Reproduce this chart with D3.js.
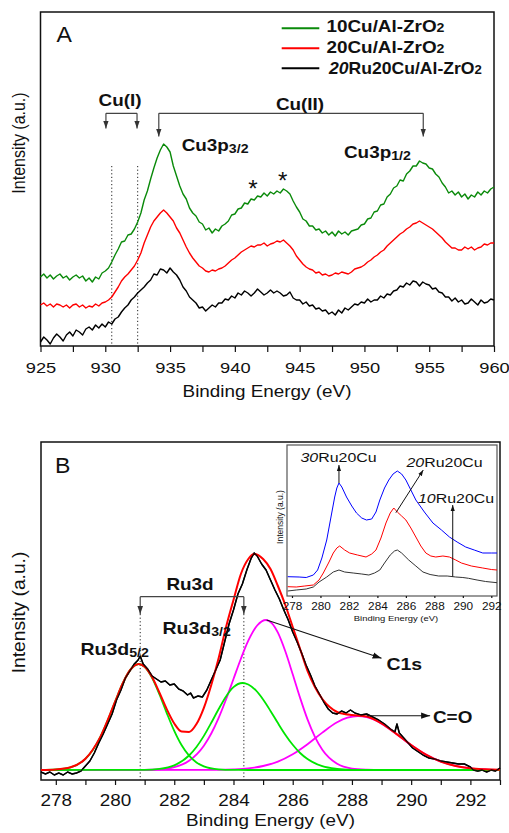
<!DOCTYPE html>
<html>
<head>
<meta charset="utf-8">
<title>XPS Cu3p / Ru3d</title>
<script src="https://d3js.org/d3.v7.min.js"></script>
<style>
  body { margin: 0; background: #fff; }
  text { font-family: Arial, "Liberation Sans", sans-serif; }
</style>
</head>
<body>
<div id="chart"></div>
<script>
// ---------- DATA: panel A (Cu3p region), intensities in a.u. every 0.25 eV ----------
var energyA = d3.range(925, 960.001, 0.25);   // sampling grid of the spectra
var cu10 = [
  69,72,68,71, 67,70,72,68, 70,66,69,71, 68,70,65,68, 64,69,67,73,
  75,78,84,91, 97,104,105,111, 112,117,124,133, 146,155,167,178, 188,196,202,199,
  194,180,170,160, 152,147,138,133, 130,124,122,116, 118,113,117,115, 120,122,125,131,
  132,137,138,143, 142,147,146,150, 149,153,150,154, 152,155,153,157, 155,152,145,139,
  134,127,125,120, 120,116,117,113, 115,111,114,110, 115,112,114,111, 115,116,117,121,
  122,127,128,134, 135,141,142,149, 152,158,160,166, 165,172,175,180, 180,185,183,182,
  178,177,172,169, 163,159,153,155, 151,154,149,152, 147,151,149,154, 151,155,153,157, 159];
var cu20 = [
  41,43,40,42, 39,42,41,39, 41,38,41,42, 39,41,38,40, 39,42,40,43,
  44,46,49,54, 59,65,69,72, 76,80,86,93, 103,111,119,125, 129,133,136,133,
  129,125,118,113, 106,99,93,88, 84,80,78,75, 74,76,75,77, 78,80,83,86,
  88,91,94,96, 98,100,99,101, 101,103,100,102, 103,105,104,106, 103,100,96,90,
  86,82,79,77, 76,73,74,71, 72,70,71,73, 72,74,73,72, 74,77,78,79,
  81,84,86,89, 91,94,96,100, 103,106,109,112, 114,117,119,122, 123,125,123,121,
  119,117,114,111, 108,104,101,98, 98,96,96,99, 97,99,96,98, 99,102,101,103, 103];
var ru20cu20 = [
  4,9,6,2, 8,12,9,5, 11,14,10,16, 14,11,17,19, 16,21,18,22,
  19,24,22,27, 29,34,38,41, 46,49,53,56, 59,63,66,72, 71,77,76,73,
  78,74,71,66, 59,55,49,46, 43,38,39,35, 38,41,39,43, 43,47,46,50,
  48,53,51,55, 53,50,53,57, 54,51,53,56, 53,55,53,50, 51,54,48,46,
  46,42,44,40, 41,37,38,35, 36,32,34,31, 36,33,38,36, 39,42,41,44,
  43,47,44,46, 46,50,48,52, 51,55,56,60, 59,63,61,65, 64,60,64,62,
  61,57,58,54, 53,49,49,45, 48,44,46,42, 43,47,44,41, 46,43,44,47, 46];
var namesA = ['10Cu/Al-ZrO', '20Cu/Al-ZrO', 'Ru20Cu/Al-ZrO'];
var ticksA = [925, 927.5, 930, 932.5, 935, 937.5, 940, 942.5, 945, 947.5, 950, 952.5, 955, 957.5, 960];
var cuIEnergies = [930.5, 932.5];

// ---------- DATA: panel B (Ru3d + C1s), [binding energy, intensity] ----------
var measured = [[277.5,-2],[277.65,-4],[277.8,-2],[277.95,-5],[278.1,-3],[278.25,-5],[278.4,-2],[278.55,-4],
  [278.7,-3],[278.85,-1],[279.0,4],[279.15,9],[279.3,17],[279.45,27],[279.6,36],[279.75,46],[279.9,56],
  [280.05,70],[280.2,80],[280.35,92],[280.5,99],[280.65,106],[280.78,110],[280.85,114],[280.95,106],
  [281.1,101],[281.25,94],[281.4,91],[281.55,88],[281.7,89],[281.85,85],[282.0,86],[282.15,81],[282.3,79],
  [282.45,75],[282.55,77],[282.65,72],[282.8,74],[282.95,73],[283.1,80],[283.25,90],[283.4,100],[283.55,110],
  [283.7,128],[283.85,146],[284.0,160],[284.15,176],[284.3,186],[284.45,200],[284.6,212],[284.7,217],
  [284.8,214],[284.95,206],[285.1,200],[285.25,190],[285.4,180],[285.55,171],[285.7,160],[285.85,150],
  [286.0,138],[286.15,128],[286.3,117],[286.45,105],[286.6,95],[286.75,84],[286.9,76],[287.05,68],
  [287.2,61],[287.35,57],[287.5,56],[287.65,59],[287.8,57],[287.95,60],[288.1,57],[288.3,55],[288.5,56],
  [288.7,53],[288.9,50],[289.1,46],[289.3,41],[289.45,38],[289.52,46],[289.6,37],[289.75,32],[289.9,27],
  [290.05,22],[290.2,19],[290.4,15],[290.6,12],[290.8,11],[291.0,9],[291.2,8],[291.4,7],[291.6,6],
  [291.8,6],[292.0,3],[292.1,0],[292.25,-1],[292.4,0],[292.55,-2],[292.7,0],[292.85,-1],[293.0,2]];
var envelope = [[277.5,0],[278,0.5],[278.5,2.7],[279,11.2],[279.5,32.9],[280,68.1],[280.25,86],[280.5,99.6],
  [280.8,106.1],[281,103.3],[281.25,92.9],[281.5,77.3],[281.75,60.6],[282,46.5],[282.25,38.4],[282.5,38],
  [282.75,45.9],[283,62.1],[283.25,85],[283.5,112],[283.75,143],[284,170],[284.25,196],[284.5,211],
  [284.7,216],[285,211],[285.25,201],[285.5,184],[285.75,165],[286,143],[286.25,121],[286.5,99],
  [286.75,83],[287,71],[287.25,63],[287.5,58],[287.75,56],[288,55],[288.5,53.5],[289,46.5],[289.5,36.1],
  [290,25],[290.5,15.4],[291,8.4],[291.5,4.1],[292,1.7],[292.5,0.7],[293,0.2]];
var ru3d52 = [[277.5,0],[278,0.5],[278.5,2.7],[279,11.2],[279.25,20.1],[279.5,32.9],[279.75,49.4],[280,68.1],
  [280.25,86],[280.5,99.6],[280.8,106],[281,103.1],[281.25,92.1],[281.5,75.5],[281.75,56.7],[282,39.1],
  [282.25,24.7],[282.5,14.3],[282.75,7.6],[283,3.7],[283.5,0.7],[284,0.1],[284.5,0],[293,0]];
var ru3d32 = [[277.5,0],[281,0.2],[281.5,1.1],[282,4.6],[282.5,14.5],[282.75,23],[283,34.1],[283.25,47.2],
  [283.5,61],[283.75,73.6],[284,82.8],[284.3,87],[284.5,85.5],[284.75,79.8],[285,70.5],[285.25,59.1],
  [285.5,46.9],[285.75,35.3],[286,25.2],[286.25,17],[286.5,10.9],[287,3.8],[287.5,1.1],[288,0.2],[288.5,0],[293,0]];
var c1s = [[277.5,0],[281,0.2],[281.5,0.7],[282,2.8],[282.5,9.2],[283,24.3],[283.25,36.5],[283.5,52.1],
  [283.75,70.7],[284,91],[284.25,111.3],[284.5,129.3],[284.8,144.5],[285.1,150],[285.3,146.7],[285.5,137.3],
  [285.75,118.7],[286,95.8],[286.25,72.1],[286.5,50.6],[286.75,33.2],[287,20.3],[287.5,6.2],[288,1.4],
  [288.5,0.3],[289,0],[293,0]];
var cdo = [[277.5,0],[283.5,0.2],[284,0.6],[284.5,1.6],[285,4],[285.5,8.4],[286,15.7],[286.5,25.8],[287,37.4],
  [287.5,47.7],[287.85,52.3],[288.2,54],[288.5,52.8],[289,46.4],[289.5,36.1],[290,25],[290.5,15.4],[291,8.4],
  [291.5,4.1],[292,1.7],[292.5,0.7],[293,0.2]];
var ticksB = [278, 279, 280, 281, 282, 283, 284, 285, 286, 287, 288, 289, 290, 291, 292, 293];
var ru3dEnergies = [280.85, 284.35];

// ---------- DATA: inset (xRu20Cu series) ----------
var inset30 = [[277.7,19.3],[278.5,19],[279,18.5],[279.5,21],[279.8,26],[280.1,38],[280.44,56],[280.7,76],
  [281,99],[281.15,108],[281.3,113],[281.5,109],[281.83,99],[282.2,90],[282.53,83],[282.9,78],[283.23,76],
  [283.6,77],[283.9,84],[284.17,96],[284.5,108],[284.8,116],[285.1,122],[285.4,125],[285.7,122],[286,116],
  [286.35,106],[286.7,96],[287.3,84],[287.9,73],[288.5,66],[289.06,59],[289.6,54],[290.2,49],[290.8,46],
  [291.4,43],[292,43],[292.4,43]];
var inset20 = [[277.7,9.3],[278.3,9],[278.9,10],[279.5,11],[279.9,16],[280.2,23],[280.6,34],[280.9,43],
  [281.15,48],[281.35,50],[281.7,46],[282.05,43],[282.6,41],[283.2,39],[283.6,42],[283.9,46],[284.25,58],
  [284.6,73],[284.9,83],[285.15,88],[285.4,84],[285.7,80],[286,76],[286.35,68],[286.7,59],[287.05,50],
  [287.4,43],[287.75,40],[288.1,39],[288.6,40],[289.06,39],[289.5,36],[289.9,33],[290.6,30],[291.4,28],
  [292,26.5],[292.4,26]];
var inset10 = [[277.7,5],[278.3,6],[279,7],[279.5,9],[279.9,14],[280.44,19],[280.9,24],[281.3,26],[281.7,24],
  [282.3,23],[282.9,22],[283.4,21],[283.8,23],[284.17,26],[284.5,33],[284.9,41],[285.2,45],[285.4,46],
  [285.7,43],[286.2,36],[286.7,30],[287.2,24],[287.7,21.5],[288.3,20],[288.9,20],[289.5,19],[290,18.5],
  [290.4,17.7],[291,16],[291.6,14.5],[292.4,13.3]];
var insetNames = ['30', '20', '10'];
var ticksInset = [278, 280, 282, 284, 286, 288, 290, 292];

// ---------- SETUP ----------
var W = 509, H = 833;
var SX = 1.18;   // the figure is a bit wider than tall, so text is stretched sideways
var svg = d3.select('#chart').append('svg').attr('width', W).attr('height', H);

var defs = svg.append('defs');
function marker(id, color, size) {
    defs.append('marker').attr('id', id)
        .attr('viewBox', '0 0 10 10').attr('refX', 10).attr('refY', 5)
        .attr('markerWidth', size).attr('markerHeight', size)
        .attr('markerUnits', 'userSpaceOnUse').attr('orient', 'auto')
        .append('path').attr('d', 'M0,1.5 L10,5 L0,8.5 Z').attr('fill', color);
}
marker('arrGrey', '#333', 8);
marker('arrBlack', '#111', 9);
marker('arrSmall', '#111', 6);

// text with tspans for subscripts / italics
function label(g, x, y, parts, o) {
    o = o || {};
    var t = g.append('text')
        .attr('transform', 'translate(' + x + ',' + y + ') scale(' + (o.sx || SX) + ',1)')
        .attr('text-anchor', o.anchor || 'start')
        .style('font-size', (o.size || 16) + 'px')
        .style('font-weight', o.bold ? 'bold' : 'normal')
        .attr('fill', o.fill || '#111');
    [].concat(parts).forEach(function (p) {
        if (typeof p === 'string') { t.append('tspan').text(p); return; }
        var s = t.append('tspan').text(p.t);
        if (p.size) s.style('font-size', p.size + 'px');
        if (p.dy) s.attr('dy', p.dy);
        if (p.italic) s.style('font-style', 'italic');
    });
    return t;
}

function vlabel(g, x, y, text, size, stretch) {
    g.append('text')
        .attr('transform', 'translate(' + x + ',' + y + ') rotate(-90) scale(' + stretch + ',1.1)')
        .attr('text-anchor', 'middle').style('font-size', size + 'px').attr('fill', '#111')
        .text(text);
}

function bottomAxis(g, scale, y, values, fmt, size, labelY, tick) {
    var ax = g.append('g').attr('transform', 'translate(0,' + y + ')')
        .call(d3.axisBottom(scale).tickValues(values).tickSize(tick).tickFormat(fmt));
    ax.select('.domain').remove();
    ax.selectAll('line').attr('stroke', '#111').attr('stroke-width', 1.2);
    ax.selectAll('text').attr('y', labelY).attr('dy', null)
        .attr('transform', 'scale(' + SX + ',1)')
        .style('font-size', size + 'px').style('font-family', 'Arial, "Liberation Sans", sans-serif')
        .attr('fill', '#111');
    return ax;
}

function arrow(g, x1, y1, x2, y2, color, mk, w) {
    g.append('line').attr('x1', x1).attr('y1', y1).attr('x2', x2).attr('y2', y2)
        .attr('stroke', color).attr('stroke-width', w || 1.2)
        .attr('marker-end', 'url(#' + mk + ')');
}

// ---------- PANEL A ----------
var gA = svg.append('g');
var xA = d3.scaleLinear().domain([925, 960]).range([40.5, 494]);
var yA = d3.scaleLinear().domain([0, 334]).range([346, 12]);

gA.append('rect').attr('x', 40.5).attr('y', 12).attr('width', 453.5).attr('height', 334)
    .attr('fill', 'none').attr('stroke', '#111').attr('stroke-width', 1.5);

// dotted Cu(I) guides
gA.selectAll('line.cuI').data(cuIEnergies).enter().append('line')
    .attr('x1', function (d) { return xA(d); }).attr('x2', function (d) { return xA(d); })
    .attr('y1', yA(180)).attr('y2', yA(0))
    .attr('stroke', '#222').attr('stroke-width', 1).attr('stroke-dasharray', '1.2,2.4');

var lineA = d3.line().x(function (d, i) { return xA(energyA[i]); }).y(function (d) { return yA(d); });
var seriesA = [
    { values: cu10, color: '#0a8a0a' },
    { values: cu20, color: '#ff0000' },
    { values: ru20cu20, color: '#000000' }
];
gA.selectAll('path.specA').data(seriesA).enter().append('path')
    .attr('class', 'specA')
    .attr('d', function (d) { return lineA(d.values); })
    .attr('fill', 'none').attr('stroke', function (d) { return d.color; })
    .attr('stroke-width', 1.4).attr('stroke-linejoin', 'round');

bottomAxis(gA, xA, 346, ticksA, function (d) { return d % 5 === 0 ? d : ''; }, 15.5, 27, 6);
label(gA, 267, 396.5, 'Binding Energy (eV)', { anchor: 'middle', size: 16 });
vlabel(gA, 25, 143, 'Intensity (a.u.)', 16, 1.0);
label(gA, 56.5, 41.5, 'A', { size: 22, sx: 1.05 });

// legend
var legA = gA.append('g');
var legRows = [28.3, 48.3, 68.3];
seriesA.forEach(function (s, i) {
    legA.append('line').attr('x1', 281.7).attr('x2', 319.3).attr('y1', legRows[i]).attr('y2', legRows[i])
        .attr('stroke', s.color).attr('stroke-width', 2);
});
label(legA, 326.5, 32, [namesA[0], { t: '2', size: 12 }], { size: 16, bold: true });
label(legA, 326.5, 52.5, [namesA[1], { t: '2', size: 12 }], { size: 16, bold: true });
label(legA, 329, 73.5, [{ t: '20', italic: true }, namesA[2], { t: '2', size: 12 }], { size: 16, bold: true, sx: 1.1 });

// Cu(I) / Cu(II) brackets
var brA = gA.append('g');
function bracket(g, xa, xb, yTop, yTip) {
    g.append('line').attr('x1', xa).attr('x2', xb).attr('y1', yTop).attr('y2', yTop)
        .attr('stroke', '#444').attr('stroke-width', 1.2);
    arrow(g, xa, yTop, xa, yTip, '#444', 'arrGrey', 1.2);
    arrow(g, xb, yTop, xb, yTip, '#444', 'arrGrey', 1.2);
}
bracket(brA, xA(930.05), xA(932.45), 113.3, 128.5);
bracket(brA, xA(934.13), xA(954.54), 113.3, 136.5);
label(brA, 120, 106, 'Cu(I)', { anchor: 'middle', size: 16, bold: true });
label(brA, 300, 110, 'Cu(II)', { anchor: 'middle', size: 16, bold: true });
label(brA, 181.7, 150.5, ['Cu3p', { t: '3/2', size: 12, dy: 2 }], { size: 16, bold: true });
label(brA, 344, 157.5, ['Cu3p', { t: '1/2', size: 12, dy: 2 }], { size: 16, bold: true });
label(brA, xA(941.4), 197, '*', { anchor: 'middle', size: 23, sx: 1.05 });
label(brA, xA(943.7), 189, '*', { anchor: 'middle', size: 23, sx: 1.05 });

// ---------- PANEL B ----------
var gB = svg.append('g');
var xB = d3.scaleLinear().domain([277.5, 293]).range([41, 500]);
var yB = d3.scaleLinear().domain([-10, 328]).range([780, 442]);

gB.append('rect').attr('x', 41).attr('y', 442).attr('width', 459).attr('height', 338)
    .attr('fill', 'none').attr('stroke', '#111').attr('stroke-width', 1.5);

gB.selectAll('line.ru').data(ru3dEnergies).enter().append('line')
    .attr('x1', function (d) { return xB(d); }).attr('x2', function (d) { return xB(d); })
    .attr('y1', yB(156)).attr('y2', yB(-10))
    .attr('stroke', '#222').attr('stroke-width', 1).attr('stroke-dasharray', '1.2,2.4');

var lineB = d3.line().x(function (d) { return xB(d[0]); }).y(function (d) { return yB(d[1]); });
var fitB = d3.line().x(function (d) { return xB(d[0]); }).y(function (d) { return yB(d[1]); })
    .curve(d3.curveMonotoneX);

var comps = [
    { pts: cdo, color: '#ff00ff' },
    { pts: c1s, color: '#ff00ff' },
    { pts: ru3d32, color: '#00e600' },
    { pts: ru3d52, color: '#00e600' }
];
gB.append('path').attr('d', lineB(measured)).attr('fill', 'none')
    .attr('stroke', '#000').attr('stroke-width', 1.5).attr('stroke-linejoin', 'round');
gB.selectAll('path.comp').data(comps).enter().append('path')
    .attr('class', 'comp').attr('d', function (d) { return fitB(d.pts); })
    .attr('fill', 'none').attr('stroke', function (d) { return d.color; }).attr('stroke-width', 1.8);
gB.append('path').attr('d', fitB(envelope)).attr('fill', 'none')
    .attr('stroke', '#ff0000').attr('stroke-width', 2);
// re-draw the measured curve on top where it rises above the fit
gB.append('path').attr('d', lineB(measured)).attr('fill', 'none')
    .attr('stroke', '#000').attr('stroke-width', 1.3).attr('stroke-linejoin', 'round').attr('opacity', 0.85);

bottomAxis(gB, xB, 780, ticksB, function (d) { return d % 2 === 0 ? d : ''; }, 16, 26.5, 5);
label(gB, 270.5, 826, 'Binding Energy (eV)', { anchor: 'middle', size: 16 });
vlabel(gB, 25, 612.5, 'Intensity (a.u.)', 16, 1.2);
label(gB, 55, 473, 'B', { size: 22, sx: 1.05 });

var brB = gB.append('g');
bracket(brB, xB(ru3dEnergies[0]), xB(ru3dEnergies[1]), 596.7, 614);
label(brB, 190, 590, 'Ru3d', { anchor: 'middle', size: 16, bold: true });
label(brB, 162.5, 634, ['Ru3d', { t: '3/2', size: 12, dy: 2 }], { size: 16.5, bold: true });
label(brB, 80.5, 655, ['Ru3d', { t: '5/2', size: 12, dy: 2 }], { size: 16.5, bold: true });
arrow(brB, xB(285.12), yB(150), xB(289.0), yB(111.7), '#111', 'arrBlack', 1.1);
label(brB, 386.5, 670, 'C1s', { size: 16.5, bold: true });
arrow(brB, xB(288.5), yB(54.3), xB(290.64), yB(54.3), '#111', 'arrBlack', 1.1);
label(brB, 433, 723, 'C=O', { size: 16, bold: true });

// ---------- INSET ----------
var gI = svg.append('g');
var xI = d3.scaleLinear().domain([277.65, 292.4]).range([287, 497]);
var yI = d3.scaleLinear().domain([0, 151]).range([596, 445]);
gI.append('rect').attr('x', 287).attr('y', 445).attr('width', 210).attr('height', 151)
    .attr('fill', '#fff').attr('stroke', '#555').attr('stroke-width', 1.2);

var lineI = d3.line().x(function (d) { return xI(d[0]); }).y(function (d) { return yI(d[1]); });
var insetSeries = [
    { pts: inset30, color: '#0000ff' },
    { pts: inset20, color: '#ff0000' },
    { pts: inset10, color: '#333333' }
];
gI.selectAll('path.ins').data(insetSeries).enter().append('path')
    .attr('d', function (d) { return lineI(d.pts); })
    .attr('fill', 'none').attr('stroke', function (d) { return d.color; }).attr('stroke-width', 1);

bottomAxis(gI, xI, 596, ticksInset, function (d) { return d; }, 10, 14, 2);
label(gI, 396, 621, 'Binding Energy (eV)', { anchor: 'middle', size: 8 });
vlabel(gI, 283, 517, 'Intensity (a.u.)', 8.5, 1.0);

arrow(gI, xI(281.3), yI(113), xI(281.3), yI(131), '#111', 'arrSmall', 1);
arrow(gI, xI(285.3), yI(83.3), xI(287.22), yI(126), '#111', 'arrSmall', 1);
arrow(gI, xI(289.29), yI(19.3), xI(289.29), yI(91), '#111', 'arrSmall', 1);
label(gI, 300.5, 461.5, [{ t: insetNames[0], italic: true }, 'Ru20Cu'], { size: 13.5 });
label(gI, 406.5, 466.5, [{ t: insetNames[1], italic: true }, 'Ru20Cu'], { size: 13.5 });
label(gI, 418, 503, [{ t: insetNames[2], italic: true }, 'Ru20Cu'], { size: 13.5 });
</script>
</body>
</html>
